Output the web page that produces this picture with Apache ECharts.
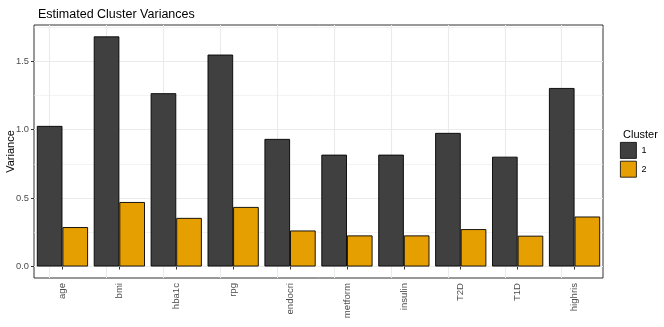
<!DOCTYPE html>
<html>
<head>
<meta charset="utf-8">
<script src="https://cdn.jsdelivr.net/npm/echarts@6/dist/echarts.min.js"></script>
<style>
  html, body { margin: 0; padding: 0; background: #fff; }
  #chart { width: 664px; height: 327px; }
</style>
</head>
<body>
<div id="chart"></div>
<script>
const categories = ['age', 'bmi', 'hba1c', 'rpg', 'endocri', 'metform', 'insulin', 'T2D', 'T1D', 'highris']
const cluster1 = [1.027, 1.681, 1.266, 1.548, 0.932, 0.817, 0.817, 0.976, 0.802, 1.304]
const cluster2 = [0.288, 0.471, 0.355, 0.435, 0.263, 0.227, 0.227, 0.273, 0.225, 0.365]
const yTicks = [0, 0.5, 1, 1.5]
const yMinor = [0.25, 0.75, 1.25, 1.75]

const font = 'Liberation Sans, Arial, sans-serif'
const chart = echarts.init(document.getElementById('chart'))

const gridLines = [
  ...yTicks.map((v) => ({ yAxis: v, lineStyle: { color: '#ebebeb', width: 1.1, type: 'solid' } })),
  ...yMinor.map((v) => ({ yAxis: v, lineStyle: { color: '#ebebeb', width: 0.6, type: 'solid' } })),
  ...categories.map((c) => ({ xAxis: c, lineStyle: { color: '#ebebeb', width: 1.1, type: 'solid' } }))
]

chart.setOption({
  animation: false,
  backgroundColor: '#fff',
  textStyle: { fontFamily: font },
  title: [
    {
      text: 'Estimated Cluster Variances',
      left: 33,
      top: 3,
      textStyle: { fontSize: 12.5, fontWeight: 'normal', color: '#000', fontFamily: font }
    },
    {
      text: 'Cluster',
      left: 618,
      top: 124,
      textStyle: { fontSize: 11, fontWeight: 'normal', color: '#000', fontFamily: font }
    }
  ],
  legend: {
    orient: 'vertical',
    left: 620,
    top: 142,
    padding: 0,
    itemWidth: 16,
    itemHeight: 16,
    itemGap: 2,
    icon: 'rect',
    itemStyle: { borderWidth: 0.8, borderColor: '#000' },
    textStyle: { fontSize: 9, color: '#000', fontFamily: font },
    data: ['1', '2']
  },
  grid: {
    left: 34,
    right: 61,
    top: 25,
    bottom: 49,
    show: true,
    borderColor: '#333',
    borderWidth: 1,
    containLabel: false,
    outerBoundsMode: 'none'
  },
  xAxis: {
    type: 'category',
    data: categories,
    axisLine: { show: false },
    axisTick: { show: true, alignWithLabel: true, length: 3, lineStyle: { color: '#333' } },
    axisLabel: { rotate: 90, fontSize: 9.6, color: '#4d4d4d', margin: 5, fontFamily: font },
    splitLine: { show: false }
  },
  yAxis: {
    type: 'value',
    min: -0.084,
    max: 1.764,
    name: 'Variance',
    nameLocation: 'middle',
    nameGap: 18,
    nameMoveOverlap: false,
    nameRotate: 90,
    nameTextStyle: { fontSize: 11, color: '#000', fontFamily: font },
    axisLine: { show: false },
    axisTick: { show: true, length: 3, lineStyle: { color: '#333' }, customValues: yTicks },
    axisLabel: {
      fontSize: 9.3,
      color: '#4d4d4d',
      margin: 5,
      fontFamily: font,
      customValues: yTicks,
      formatter: (v) => v.toFixed(1)
    },
    splitLine: { show: false }
  },
  series: [
    {
      name: '1',
      type: 'bar',
      data: cluster1,
      barGap: '0%',
      barCategoryGap: '10%',
      itemStyle: { color: '#404040', borderColor: '#000', borderWidth: 0.9 },
      markLine: {
        silent: true,
        symbol: 'none',
        label: { show: false },
        z: 0,
        data: gridLines
      },
      z: 2
    },
    {
      name: '2',
      type: 'bar',
      data: cluster2,
      itemStyle: { color: '#E69F00', borderColor: '#000', borderWidth: 0.9 },
      z: 2
    }
  ]
})
</script>
</body>
</html>
